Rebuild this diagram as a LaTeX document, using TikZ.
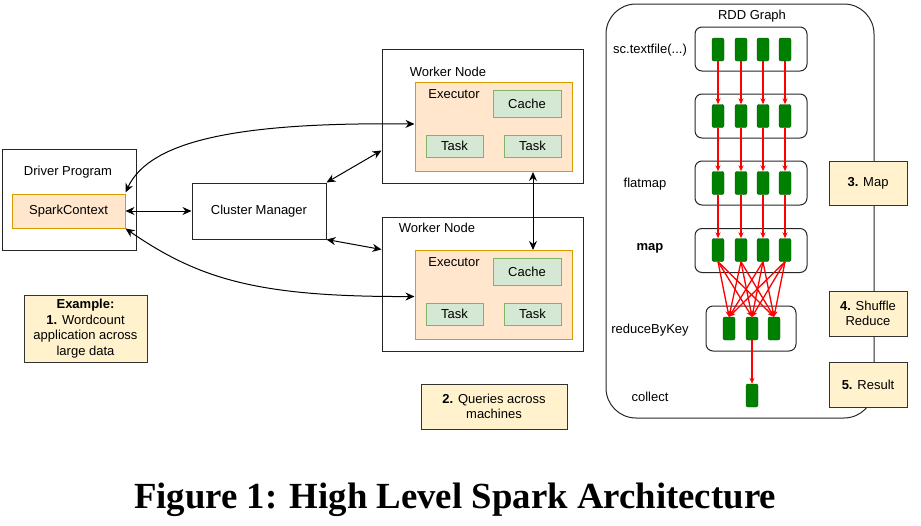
\documentclass[tikz,border=0pt]{standalone}
\usepackage{fontspec}
\setmainfont{Liberation Sans}
\newfontfamily\capfont{Liberation Serif}
\usetikzlibrary{arrows.meta}
\definecolor{execline}{HTML}{D79B00}
\definecolor{execfill}{HTML}{FFE6CC}
\definecolor{cellline}{HTML}{82B366}
\definecolor{cellfill}{HTML}{D5E8D4}
\definecolor{notefill}{HTML}{FFF2CC}
\definecolor{partfill}{HTML}{008000}
\definecolor{partline}{HTML}{005700}
\definecolor{flowred}{HTML}{FF0000}

\begin{document}
\begin{tikzpicture}[x=1pt,y=-1pt,
		every node/.style={font=\fontsize{13}{15.5}\selectfont},
		plain/.style={draw=black!85,line width=1pt,inner sep=0pt},
		exec/.style={draw=execline,fill=execfill,line width=1pt,inner sep=0pt},
		cell/.style={draw=cellline,fill=cellfill,line width=1pt,inner sep=0pt},
		note/.style={draw=black!80,fill=notefill,line width=1pt,inner sep=0pt},
		rdd/.style={draw=black!85,line width=1pt,rounded corners=30pt},
		stage/.style={draw=black!85,line width=1pt,rounded corners=7pt},
		part/.style={draw=partline,fill=partfill,rounded corners=2pt,minimum width=12,minimum height=23,inner sep=0pt},
		link/.style={<->,>={Stealth[length=9pt,width=8pt]},line width=1pt},
		flow/.style={-{Stealth[length=6pt,width=5pt]},color=flowred,line width=1.3pt}
	]
		\useasboundingbox (0,0) rectangle (921,525);

		\node[plain,minimum width=134,minimum height=101] (driver) at (69,199.5) {};
		\node (drvlabel) at (68,172) {Driver Program};
		\node[exec,minimum width=113,minimum height=34] (spark) at (68.5,211) {SparkContext};
		\node[plain,minimum width=134,minimum height=56] (cluster) at (259,211) {Cluster Manager};
		\node[note,minimum width=123,minimum height=67,align=center] (example) at (85.5,328.5)
			{\textbf{Example:}\\\textbf{1.} Wordcount\\application across\\large data};

		\foreach \w/\dy/\lx/\ly in {1/0/448/72,2/168/437/228} {
			\node[plain,minimum width=201,minimum height=134] (worker\w) at (482.5,116+\dy) {};
			\node (wlabel\w) at (\lx,\ly) {Worker Node};
			\node[exec,minimum width=157,minimum height=89] (exec\w) at (493.5,127+\dy) {};
			\node (elabel\w) at (454,94+\dy) {Executor};
			\node[cell,minimum width=68,minimum height=27] (cache\w) at (527,103.5+\dy) {Cache};
			\node[cell,minimum width=57,minimum height=22] (taska\w) at (454.5,146+\dy) {Task};
			\node[cell,minimum width=57,minimum height=22] (taskb\w) at (532.5,146+\dy) {Task};
		}

		\draw[link] (spark.east) -- (cluster.west);
		\draw[link] (cluster.north east) -- ([yshift=33pt]worker1.south west);
		\draw[link] (cluster.south east) -- ([yshift=-33pt]worker2.north west);
		\draw[link] ([xshift=39.5pt]exec1.south) -- ([xshift=39.5pt]exec2.north);
		\draw[link] ([yshift=1pt]spark.north east) .. controls (150,140) and (240,122) .. ([yshift=3pt]exec1.west);
		\draw[link] (spark.south east) .. controls (200,280) and (260,297) .. ([yshift=-1.5pt]exec2.west);

		\node[note,minimum width=146,minimum height=45,align=center,font=\fontsize{13}{15}\selectfont] (queries) at (494,406.5)
			{\textbf{2.} Queries across\\machines};

		\node[rdd,minimum width=268,minimum height=414] (rdd) at (740,211) {};
		\node (rddlabel) at (752,16) {RDD Graph};
		\foreach \r/\y in {1/49,2/116,3/183,4/250.5}
			\node[stage,minimum width=112,minimum height=44] (stage\r) at (751,\y) {};
		\node[stage,minimum width=90,minimum height=45] (stage5) at (751,328.5) {};

		\foreach \r/\y in {1/49.5,2/116,3/183,4/250}
			\foreach \c/\x in {1/718,2/741,3/763,4/785}
				\node[part] (p\r\c) at (\x,\y) {};
		\foreach \k/\x in {1/729,2/752,3/774}
			\node[part] (q\k) at (\x,328.5) {};
		\node[part] (res) at (752,395.5) {};

		\foreach \r/\s in {1/2,2/3,3/4}
			\foreach \c in {1,...,4}
				\draw[flow] (p\r\c.south) -- (p\s\c.north);
		\foreach \c in {1,...,4}
			\foreach \k in {1,2,3}
				\draw[flow] (p4\c.south) -- (q\k.north);
		\draw[flow] (q2.south) -- (res.north);

		\node (lbl1) at (650,50) {sc.textfile(...)};
		\node (lbl3) at (645,184) {flatmap};
		\node (lbl4) at (650,248) {\textbf{map}};
		\node (lbl5) at (650,330) {reduceByKey};
		\node (lbl6) at (650,397) {collect};

		\node[note,minimum width=78,minimum height=44] (mapnote) at (868,183) {\textbf{3.} Map};
		\node[note,minimum width=78,minimum height=45,align=center] (shufnote) at (868,313.5) {\textbf{4.} Shuffle\\Reduce};
		\node[note,minimum width=78,minimum height=45] (resnote) at (868,384.5) {\textbf{5.} Result};

		\node[font=\capfont\bfseries\fontsize{36.8}{40}\selectfont,anchor=base] (caption) at (455,508)
			{Figure 1: High Level Spark Architecture};
\end{tikzpicture}
\end{document}
